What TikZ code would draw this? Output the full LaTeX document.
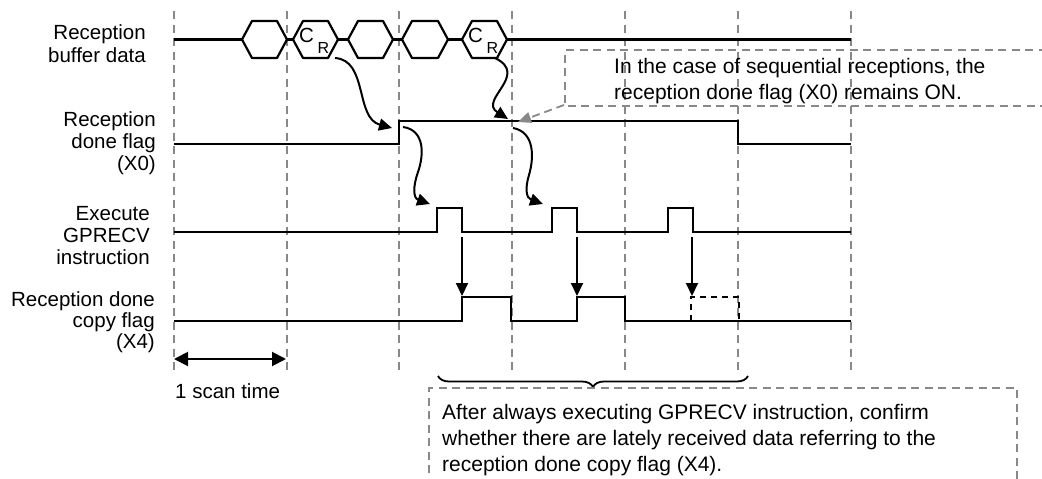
\documentclass[tikz,border=0pt]{standalone}
\usepackage{fontspec}
\setmainfont{Liberation Sans}
\usetikzlibrary{arrows.meta,decorations.pathreplacing}
\definecolor{gridgray}{RGB}{136,136,136}
\begin{document}
\begin{tikzpicture}[x=1pt,y=-1pt,
  gridline/.style={draw=gridgray, line width=1.8pt, dash pattern=on 8pt off 5.5pt},
  sig/.style={line width=2.3pt, line join=miter},
  hexa/.style={line width=2.2pt, line join=round},
  arr/.style={line width=2pt, -{Triangle[length=13pt,width=12pt]}},
  garr/.style={draw=gridgray, line width=1.8pt, dash pattern=on 8pt off 5pt, -{Triangle[length=13pt,width=11pt]}, gridgray},
  lbl/.style={font=\fontsize{20.5}{22}\selectfont, align=right, inner sep=0pt, anchor=north east},
  note/.style={font=\fontsize{21}{26}\selectfont, align=left, inner sep=0pt, anchor=north west},
  notebox/.style={draw=gridgray, line width=1.8pt, dash pattern=on 8pt off 5.5pt},
  cbig/.style={font=\fontsize{20.5}{22}\selectfont, inner sep=0pt},
  csub/.style={font=\fontsize{16}{18}\selectfont, inner sep=0pt}]
\useasboundingbox (0,0) rectangle (1042,479);
\clip (0,0) rectangle (1042,479);

% grid lines
\foreach \x in {174,287,399,512,625,738,851}
  \draw[gridline] (\x,11) -- (\x,372);

% labels
\node[lbl, font=\fontsize{20.5}{23.5}\selectfont] (l1) at (146,24) {Reception\\buffer data};
\node[lbl] (l2) at (156,111) {Reception\\done flag\\(X0)};
\node[lbl] (l3) at (150,206) {Execute\\GPRECV\\instruction};
\node[lbl, font=\fontsize{20.5}{21}\selectfont] (l4) at (155,291) {Reception done\\copy flag\\(X4)};

% row 1: reception buffer data
\newcommand\hexag[2]{\draw[hexa] (#1,39.5) -- (#1+10,21) -- (#2-10,21) -- (#2,39.5) -- (#2-10,58) -- (#1+10,58) -- cycle;}
\draw[sig] (174,39.5) -- (242,39.5);
\hexag{242}{287}
\draw[sig] (287,39.5) -- (293,39.5);
\hexag{293}{338}
\draw[sig] (338,39.5) -- (348,39.5);
\hexag{348}{393}
\draw[sig] (393,39.5) -- (402,39.5);
\hexag{402}{448}
\draw[sig] (448,39.5) -- (462,39.5);
\hexag{462}{507}
\draw[sig] (507,39.5) -- (851,39.5);
\node[cbig] (c1) at (306.5,35.5) {C};
\node[csub] (r1) at (323.5,47.5) {R};
\node[cbig] (c2) at (475.5,35.5) {C};
\node[csub] (r2) at (492.5,47.5) {R};

% row 2: reception done flag
\draw[sig] (174,144) -- (399,144) -- (399,121) -- (738,121) -- (738,144) -- (851,144);
% row 3: execute GPRECV
\draw[sig] (174,232) -- (437,232) -- (437,208) -- (462,208) -- (462,232) -- (552,232) -- (552,208) -- (577,208) -- (577,232)
  -- (668,232) -- (668,208) -- (693,208) -- (693,232) -- (851,232);
% row 4: reception done copy flag
\draw[sig] (174,321) -- (462,321) -- (462,297) -- (511,297) -- (511,321) -- (577,321) -- (577,297) -- (625,297) -- (625,321) -- (851,321);
\draw[line width=2.2pt, dash pattern=on 6pt off 5pt] (691,321) -- (691,297) -- (739,297) -- (739,321);

% coordinates
\coordinate (h2) at (335,58);
\coordinate (x0a) at (392,128);
\coordinate (h5) at (495,58);
\coordinate (x0b) at (508,119);
\coordinate (x0r) at (403,127);
\coordinate (p1) at (430,204);
\coordinate (x0s) at (513,128);
\coordinate (p2) at (543,204);
\coordinate (f1) at (462,237);
\coordinate (u1) at (462,296);
\coordinate (f2) at (577,237);
\coordinate (u2) at (577,296);
\coordinate (f3) at (692,237);
\coordinate (u3) at (692,296);

% curvy arrows
\draw[arr] (h2) .. controls (368,60) and (355,118) .. (x0a);
\draw[arr] (h5) .. controls (530,75) and (478,100) .. (x0b);
\draw[arr] (x0r) .. controls (425,130) and (424,155) .. (418,172) .. controls (413,186) and (413,198) .. (p1);
\draw[arr] (x0s) .. controls (535,132) and (534,158) .. (529,175) .. controls (525,188) and (526,198) .. (p2);
% straight arrows
\draw[arr] (f1) -- (u1);
\draw[arr] (f2) -- (u2);
\draw[arr] (f3) -- (u3);

% callout
\draw[notebox] (1060,50) -- (565,50) -- (565,106) -- (1060,106);
\node[note] (n1) at (614,58) {In the case of sequential receptions, the\\reception done flag (X0) remains ON.};
\coordinate (cb) at (564,105);
\coordinate (ct) at (518,122);
\draw[garr] (cb) -- (ct);

% scan time
\coordinate (s1) at (174,359);
\coordinate (s2) at (286,359);
\draw[line width=2pt, {Triangle[length=14pt,width=14pt]}-{Triangle[length=14pt,width=14pt]}] (s1) -- (s2);
\node[note, font=\fontsize{20.5}{22}\selectfont] (st) at (175,383) {1 scan time};

% brace and bottom note
\draw[decorate, decoration={brace, amplitude=11pt, mirror}, line width=1.8pt] (438,376) -- (748,376);
\draw[notebox] (429,500) -- (429,388) -- (1017,388) -- (1017,500);
\node[note] (n2) at (442,404) {After always executing GPRECV instruction, confirm\\whether there are lately received data referring to the\\reception done copy flag (X4).};
\end{tikzpicture}
\end{document}
